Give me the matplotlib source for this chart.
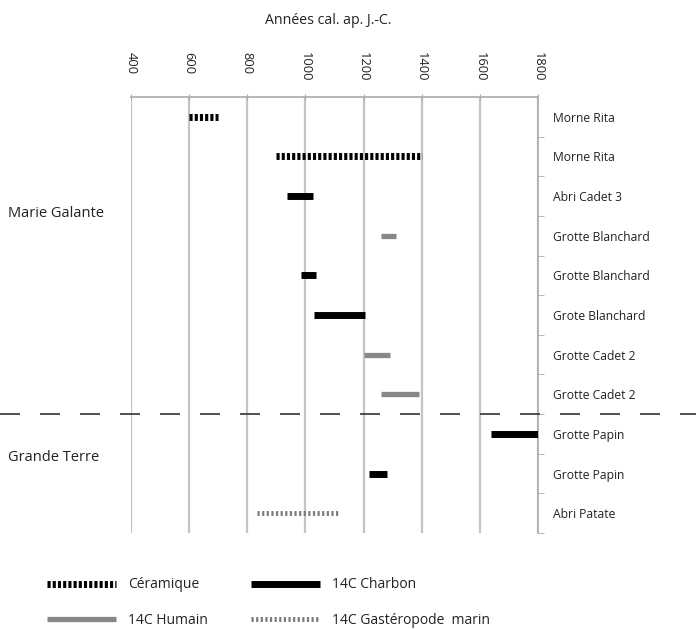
import numpy as np
import matplotlib.pyplot as plt
from matplotlib.lines import Line2D
import matplotlib.transforms as mtransforms

plt.rcParams['font.family'] = ['Open Sans', 'DejaVu Sans']

# sites (top to bottom) and dating ranges (cal. AD)
sites = ['Morne Rita', 'Morne Rita', 'Abri Cadet 3', 'Grotte Blanchard',
         'Grotte Blanchard', 'Grote Blanchard', 'Grotte Cadet 2', 'Grotte Cadet 2',
         'Grotte Papin', 'Grotte Papin', 'Abri Patate']
start = [600, 900, 935, 1260, 985, 1030, 1200, 1260, 1640, 1220, 835]
end = [700, 1400, 1025, 1310, 1035, 1205, 1290, 1390, 1800, 1280, 1120]
method = ['ceram', 'ceram', 'charbon', 'humain', 'charbon', 'charbon',
          'humain', 'humain', 'charbon', 'charbon', 'gastero']

groups = ['Marie Galante', 'Grande Terre']
group_pos = [2.45, 8.6]
split_at = 7.5

xticks = [400, 600, 800, 1000, 1200, 1400, 1600, 1800]

# line styles for each dating method
styles = {
    'ceram': dict(color='black', lw=5, linestyle=(0, (0.45, 0.3)), label='Céramique'),
    'charbon': dict(color='black', lw=5, linestyle='-', label='14C Charbon'),
    'humain': dict(color='#888888', lw=3.8, linestyle='-', label='14C Humain'),
    'gastero': dict(color='#7a7a7a', lw=3.5, linestyle=(0, (0.45, 0.5)), label='14C Gastéropode  marin'),
}

fig = plt.figure(figsize=(6.96, 6.29), dpi=100)
ax = fig.add_axes([131 / 696, 1 - 533 / 629, 407 / 696, 436 / 629])

y = np.arange(len(sites))
for i in y:
    st = styles[method[i]]
    ax.hlines(i, start[i], end[i], colors=st['color'], lw=st['lw'],
              linestyles=st['linestyle'], capstyle='butt', zorder=3)

ax.set_xlim(400, 1800)
ax.set_ylim(len(sites) - 0.5, -0.5)

# vertical grid
for xv in xticks:
    ax.axvline(xv, color='#c4c4c4', lw=1.6, zorder=1)

ax.set_xticks(xticks)
ax.set_xticklabels([str(v) for v in xticks])
ax.tick_params(axis='x', top=True, labeltop=True, bottom=False, labelbottom=False,
               direction='inout', length=5, color='#aaaaaa', pad=30,
               labelrotation=-90, labelsize=9.3, labelcolor='#222222')
for lbl in ax.get_xticklabels():
    lbl.set_va('top')

ax.yaxis.tick_right()
ax.set_yticks(y)
ax.set_yticklabels(sites)
ax.set_yticks(np.arange(len(sites)) + 0.5, minor=True)
ax.tick_params(axis='y', which='major', length=0, pad=11, labelsize=8.7, labelcolor='#222222')
ax.tick_params(axis='y', which='minor', length=4, color='#aaaaaa', direction='out')

for s in ['left', 'bottom']:
    ax.spines[s].set_visible(False)
for s in ['top', 'right']:
    ax.spines[s].set_color('#b0b0b0')
    ax.spines[s].set_linewidth(1.3)

ax.set_title('Années cal. ap. J.-C.', fontsize=10.2, y=1.168, pad=0, x=0.484,
             color='#222222')

# separator between islands
trans = mtransforms.blended_transform_factory(fig.transFigure, ax.transData)
ax.plot([0, 1], [split_at, split_at], transform=trans, color='#333333', lw=1.2,
        linestyle=(0, (12, 12)), clip_on=False, zorder=4)

for g, gp in zip(groups, group_pos):
    ax.text(8 / 696, gp, g, transform=trans, fontsize=10.5, va='center', ha='left',
            color='#222222')

order = ['ceram', 'humain', 'charbon', 'gastero']
handles = [Line2D([0], [0], color=styles[k]['color'], lw=styles[k]['lw'],
                  linestyle=styles[k]['linestyle'], solid_capstyle='butt',
                  dash_capstyle='butt') for k in order]
fig.legend(handles, [styles[k]['label'] for k in order], ncol=2, frameon=False,
           loc='upper left', bbox_to_anchor=(34 / 696, 1 - 565 / 629),
           handlelength=5.0, handletextpad=0.85, columnspacing=3.1,
           labelspacing=1.45, fontsize=10, labelcolor='#222222')

fig.savefig('out.png', dpi=100)
